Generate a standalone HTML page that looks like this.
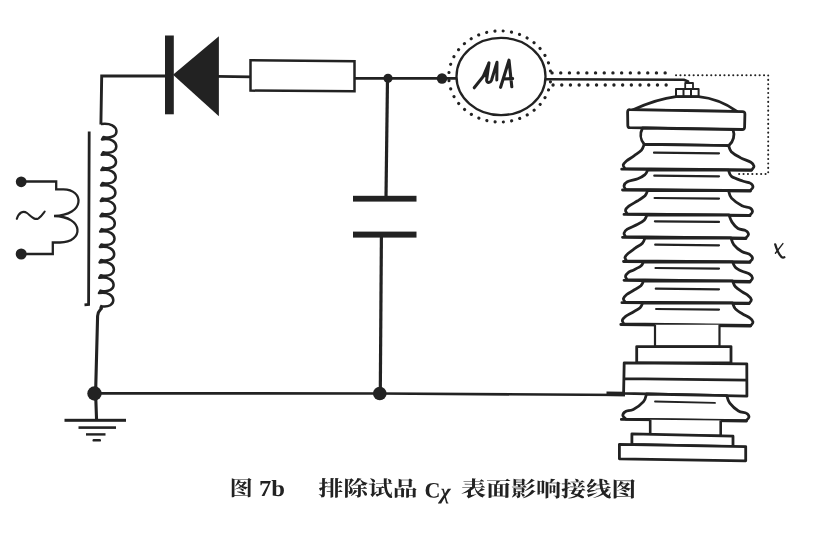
<!DOCTYPE html>
<html><head><meta charset="utf-8"><title>图 7b</title>
<style>
html,body{margin:0;padding:0;background:#fff;}
body{width:831px;height:550px;overflow:hidden;font-family:"Liberation Serif",serif;}
svg{display:block;filter:blur(0.45px);}
</style></head><body>
<svg width="831" height="550" viewBox="0 0 831 550">
<rect width="831" height="550" fill="#fff"/>
<path d="M100.9,124.5 L101.7,76 L167,76" fill="none" stroke="#222" stroke-width="2.9" stroke-linejoin="miter" />
<path d="M217,76.3 L251,76.8" fill="none" stroke="#222" stroke-width="2.8" stroke-linejoin="miter" />
<path d="M354,78.3 L457,78.3" fill="none" stroke="#222" stroke-width="2.8" stroke-linejoin="miter" />
<path d="M546,79.3 L684,79.8 L688,81.5 L688.6,84" fill="none" stroke="#222" stroke-width="2.6" stroke-linejoin="miter" />
<path d="M387.5,78 L386,197" fill="none" stroke="#222" stroke-width="3.2" stroke-linejoin="miter" />
<path d="M381.4,236 L380.3,393.5" fill="none" stroke="#222" stroke-width="3.2" stroke-linejoin="miter" />
<path d="M94,393.3 L380,393.5 L625,395" fill="none" stroke="#222" stroke-width="2.7" stroke-linejoin="miter" />
<path d="M606.5,393.8 L625,394" fill="none" stroke="#222" stroke-width="4.4" stroke-linejoin="miter" />
<path d="M100.2,306 C104,309.5 98,308.5 97.6,316 L95.6,393 L96.6,421" fill="none" stroke="#222" stroke-width="3.1"/>
<rect x="165" y="35.5" width="8.8" height="78.8" fill="#222"/>
<polygon points="173,74.8 218.9,36.2 218.9,116.2" fill="#222"/>
<path d="M250.5,60.3 L354.5,61.3 L354.5,91.2 L250.5,90.6 Z" fill="#fff" stroke="#222" stroke-width="2.5"/>
<circle cx="388" cy="78.3" r="4.6" fill="#222"/>
<circle cx="442" cy="78.5" r="5.2" fill="#222"/>
<circle cx="94.5" cy="393.5" r="7.2" fill="#222"/>
<circle cx="379.8" cy="393.5" r="6.8" fill="#222"/>
<circle cx="21.2" cy="181.8" r="5.4" fill="#222"/>
<circle cx="21.2" cy="254" r="5.5" fill="#222"/>
<rect x="353" y="195.8" width="63.5" height="5.8" fill="#222"/>
<rect x="353" y="231.6" width="63.5" height="6" fill="#222"/>
<rect x="64.5" y="418.8" width="61.5" height="3" fill="#222"/>
<rect x="78.5" y="426.3" width="37.5" height="2.6" fill="#222"/>
<rect x="86" y="433.2" width="19.5" height="2.4" fill="#222"/>
<rect x="92.5" y="439" width="8.5" height="2.6" rx="1.2" fill="#222"/>
<path d="M89.2,131.5 L88.6,304.5 L84.5,304.8" fill="none" stroke="#222" stroke-width="2.8" stroke-linejoin="miter" />
<path d="M100.9,124.0 C120.8,121.0 121.5,140.9 103.5,136.9 L102.0,139.4 C120.5,136.4 121.2,156.2 103.2,152.2 L101.7,154.8 C120.2,151.8 120.9,171.6 102.9,167.6 L101.4,170.1 C119.9,167.1 120.6,187.0 102.6,183.0 L101.1,185.5 C119.6,182.5 120.3,202.4 102.3,198.4 L100.8,200.9 C119.3,197.9 120.0,217.8 102.0,213.8 L100.5,216.2 C119.0,213.2 119.7,233.1 101.7,229.1 L100.2,231.6 C118.7,228.6 119.4,248.5 101.4,244.5 L99.9,247.0 C118.4,244.0 119.1,263.9 101.1,259.9 L99.6,262.4 C118.1,259.4 118.8,279.2 100.8,275.2 L99.3,277.8 C117.8,274.8 118.5,294.6 100.5,290.6 L99.0,293.1 C117.5,290.1 118.2,310.0 100.2,306.0" fill="none" stroke="#222" stroke-width="2.5" stroke-linejoin="round"/>
<path d="M21.2,181.5 L56.2,181.5 L56.2,189.3 L63,189.3 C84.5,189 85.5,215.5 54,216 C84.5,216.5 84,242.5 60,242.5 L52.8,242.5 L52.8,254 L21.2,254" fill="none" stroke="#222" stroke-width="2.3" stroke-linejoin="miter"/>
<path d="M16.8,218.8 C19,212.5 23,210.3 27,213 C31,216 34.5,220.8 38.5,218.3 C41.5,216.3 43,213.8 44.7,211.5" fill="none" stroke="#222" stroke-width="2.1" stroke-linecap="round"/>
<ellipse cx="501" cy="76.5" rx="44.5" ry="38.6" fill="#fff" stroke="#222" stroke-width="2.3"/>
<ellipse cx="499.8" cy="76.5" rx="51" ry="45.6" fill="none" stroke="#222" stroke-width="3.1" stroke-linecap="round" stroke-dasharray="0.1 8.25" stroke-dashoffset="3"/>
<path d="M474.2,87.8 L483,76.8 L489,62.8 L486.6,80.3 C487,83.2 490.2,83.2 491.6,80 L497,62.3 L496.8,80" fill="none" stroke="#222" stroke-width="3" stroke-linejoin="round" stroke-linecap="round"/>
<path d="M483.5,76.5 L488.5,64.5 L486.8,78 Z" fill="#222"/>
<path d="M500.6,87.3 L509,60.2 L511.8,86.8 M503.5,79 L512.6,78.6" fill="none" stroke="#222" stroke-width="3.1" stroke-linejoin="round" stroke-linecap="round"/>
<path d="M552,72.9 L670,72.9" stroke="#222" stroke-width="3.3" stroke-linecap="round" stroke-dasharray="0.1 8.6" fill="none"/>
<path d="M553,85 L672,85" stroke="#222" stroke-width="3.3" stroke-linecap="round" stroke-dasharray="0.1 8.6" fill="none"/>
<path d="M676,75.2 L768.2,75.2 L768.2,174 L739,174" stroke="#222" stroke-width="2" stroke-linecap="round" stroke-dasharray="0.1 4.3" fill="none"/>
<path d="M685.2,83 L693,83 L693,89 L685.2,89 Z" fill="#fff" stroke="#222" stroke-width="1.8" stroke-linejoin="round"/>
<path d="M676,89 L698.6,89 L698.6,96.6 L676,96.6 Z M683.5,89 L683.5,96.6 M691,89 L691,96.6" fill="#fff" stroke="#222" stroke-width="2" stroke-linejoin="round"/>
<path d="M632.5,110 C647,103.5 661,98.5 676,96.7 L698.6,96.7 C712,98 725,103 737,111.3 Z" fill="#fff" stroke="#222" stroke-width="2.8" stroke-linejoin="round"/>
<path d="M629.8,109.7 L742.4,111.6 Q745,111.7 744.9,114 L744.6,127.2 Q744.5,129.6 742,129.5 L630,127.7 Q627.8,127.6 627.8,125.4 L627.6,112 Q627.6,109.6 629.8,109.7 Z" fill="#fff" stroke="#222" stroke-width="2.8" stroke-linejoin="round"/>
<path d="M642.5,128 C640,133 640,139.5 644.2,144.2 L728.8,145.6 C733.6,141.5 735,135 733,129.6 Z" fill="#fff" stroke="#222" stroke-width="2.8" stroke-linejoin="round"/>
<path d="M644.2,144.3 C643.8,145.3 643.2,148.2 641.5,150.1 C639.9,152.0 636.8,153.8 634.3,155.6 C631.8,157.5 628.3,159.5 626.4,161.0 C624.6,162.6 623.4,163.9 623.2,165.1 C623.0,166.4 624.8,168.1 625.1,168.6 L751.8,169.8 L751.8,169.8 C752.2,169.2 754.2,167.5 754.0,166.3 C753.8,165.0 753.2,163.6 750.9,162.2 C748.6,160.8 743.4,159.4 740.2,157.6 C736.9,155.9 733.3,153.7 731.3,151.7 C729.4,149.7 729.1,146.6 728.6,145.6 Z" fill="#fff" stroke="#222" stroke-width="2.8" stroke-linejoin="round"/>
<path d="M621.7,169.2 L751.5,170.3" stroke="#222" stroke-width="2.8" fill="none" stroke-linecap="round"/>
<path d="M647.6,170.2 C647.2,170.9 646.6,173.1 645.0,174.6 C643.4,176.0 640.8,177.5 637.8,178.7 C634.9,179.9 629.6,180.6 627.3,181.8 C625.0,183.0 624.3,184.6 624.0,185.9 C623.7,187.2 625.4,188.8 625.7,189.4 L750.0,190.7 L750.0,190.7 C750.5,190.1 753.0,188.4 753.0,187.1 C753.0,185.8 752.0,184.1 750.2,183.1 C748.5,182.1 745.6,182.1 742.5,181.0 C739.4,179.9 733.8,178.2 731.5,176.4 C729.2,174.6 729.0,171.2 728.5,170.2 Z" fill="#fff" stroke="#222" stroke-width="2.8" stroke-linejoin="round"/>
<path d="M622.5,190.0 L750.5,191.0" stroke="#222" stroke-width="2.8" fill="none" stroke-linecap="round"/>
<path d="M647.6,190.5 C647.2,191.4 646.6,194.0 645.0,195.8 C643.4,197.5 640.5,199.0 637.8,200.8 C635.1,202.5 630.8,204.6 628.8,206.2 C626.8,207.8 625.8,209.0 625.5,210.3 C625.2,211.6 626.9,213.2 627.2,213.8 L749.5,215.4 L749.5,215.4 C750.0,214.8 752.5,213.1 752.5,211.8 C752.5,210.5 751.5,208.8 749.7,207.8 C748.0,206.8 745.0,207.3 742.0,205.7 C739.0,204.1 733.8,200.6 731.5,198.1 C729.2,195.5 729.0,191.8 728.5,190.5 Z" fill="#fff" stroke="#222" stroke-width="2.8" stroke-linejoin="round"/>
<path d="M624.0,214.4 L750.0,215.7" stroke="#222" stroke-width="2.8" fill="none" stroke-linecap="round"/>
<path d="M647.0,215.0 C646.6,215.8 646.0,218.3 644.4,219.9 C642.8,221.5 640.1,223.1 637.2,224.6 C634.4,226.1 629.5,227.7 627.3,229.1 C625.1,230.5 624.3,231.9 624.0,233.2 C623.7,234.5 625.4,236.1 625.7,236.7 L745.5,238.2 L745.5,238.2 C746.0,237.6 748.5,235.9 748.5,234.6 C748.5,233.3 747.5,231.6 745.7,230.6 C744.0,229.6 740.3,229.9 738.0,228.5 C735.7,227.1 733.5,224.3 732.0,222.1 C730.5,219.8 729.5,216.2 729.0,215.0 Z" fill="#fff" stroke="#222" stroke-width="2.8" stroke-linejoin="round"/>
<path d="M622.5,237.3 L746.0,238.5" stroke="#222" stroke-width="2.8" fill="none" stroke-linecap="round"/>
<path d="M645.0,238.0 C644.6,238.9 644.0,241.5 642.4,243.2 C640.8,244.9 637.6,246.4 635.2,248.1 C632.9,249.8 630.0,251.8 628.3,253.3 C626.6,254.8 625.3,256.1 625.0,257.4 C624.7,258.7 626.4,260.3 626.7,260.9 L749.8,261.9 L749.8,261.9 C750.2,261.3 752.5,259.6 752.5,258.4 C752.5,257.1 751.4,255.5 749.6,254.3 C747.8,253.2 744.4,253.1 741.8,251.5 C739.1,250.0 735.7,247.2 733.9,244.9 C732.1,242.6 731.5,239.2 731.0,238.0 Z" fill="#fff" stroke="#222" stroke-width="2.8" stroke-linejoin="round"/>
<path d="M623.5,261.5 L750.0,262.3" stroke="#222" stroke-width="2.8" fill="none" stroke-linecap="round"/>
<path d="M643.5,262.0 C643.1,262.7 642.5,264.7 640.9,266.0 C639.3,267.3 635.7,268.9 633.7,269.9 C631.7,270.9 630.2,271.0 628.8,272.1 C627.4,273.2 625.8,274.9 625.5,276.2 C625.2,277.5 626.9,279.1 627.2,279.7 L750.1,281.5 L750.1,281.5 C750.5,281.0 752.6,279.3 752.5,278.0 C752.4,276.7 751.2,275.1 749.5,274.0 C747.7,272.8 744.5,272.4 742.1,271.3 C739.8,270.2 736.9,268.8 735.3,267.2 C733.7,265.6 733.0,262.9 732.5,262.0 Z" fill="#fff" stroke="#222" stroke-width="2.8" stroke-linejoin="round"/>
<path d="M624.0,280.3 L750.0,282.0" stroke="#222" stroke-width="2.8" fill="none" stroke-linecap="round"/>
<path d="M643.5,281.0 C643.1,281.8 642.5,284.2 640.9,285.8 C639.3,287.3 636.1,288.9 633.7,290.3 C631.3,291.8 628.4,293.1 626.7,294.5 C625.0,295.9 623.7,297.3 623.4,298.6 C623.1,299.9 624.8,301.5 625.1,302.1 L749.3,303.2 L749.3,303.2 C749.7,302.6 751.6,300.9 751.4,299.7 C751.2,298.4 749.8,296.9 748.2,295.6 C746.7,294.3 744.1,293.2 741.9,291.6 C739.7,290.1 736.8,288.3 735.2,286.5 C733.7,284.8 733.0,281.9 732.5,281.0 Z" fill="#fff" stroke="#222" stroke-width="2.8" stroke-linejoin="round"/>
<path d="M621.9,302.7 L748.9,303.7" stroke="#222" stroke-width="2.8" fill="none" stroke-linecap="round"/>
<path d="M642.7,303.0 C642.3,303.8 641.7,306.2 640.1,307.7 C638.5,309.3 635.3,310.8 632.9,312.2 C630.5,313.7 627.4,314.9 625.6,316.3 C623.8,317.7 622.6,319.1 622.3,320.4 C622.0,321.7 623.7,323.3 624.0,323.9 L750.9,325.5 L750.9,325.5 C751.3,324.9 753.2,323.2 753.0,322.0 C752.8,320.7 751.6,319.2 749.8,317.9 C748.1,316.5 744.8,315.4 742.4,313.8 C739.9,312.3 736.9,310.4 735.2,308.6 C733.6,306.8 733.0,303.9 732.5,303.0 Z" fill="#fff" stroke="#222" stroke-width="2.8" stroke-linejoin="round"/>
<path d="M620.8,324.5 L750.5,326.0" stroke="#222" stroke-width="2.8" fill="none" stroke-linecap="round"/>
<path d="M654.0,152.7 L719,153.29999999999998" stroke="#222" stroke-width="2.2" fill="none" stroke-linecap="round"/>
<path d="M654.3,175.7 L719,176.29999999999998" stroke="#222" stroke-width="2.2" fill="none" stroke-linecap="round"/>
<path d="M654.6,198 L719,198.6" stroke="#222" stroke-width="2.2" fill="none" stroke-linecap="round"/>
<path d="M654.9,221.3 L719,221.9" stroke="#222" stroke-width="2.2" fill="none" stroke-linecap="round"/>
<path d="M655.2,244.7 L719,245.29999999999998" stroke="#222" stroke-width="2.2" fill="none" stroke-linecap="round"/>
<path d="M655.5,268 L719,268.6" stroke="#222" stroke-width="2.2" fill="none" stroke-linecap="round"/>
<path d="M655.8,288.7 L719,289.3" stroke="#222" stroke-width="2.2" fill="none" stroke-linecap="round"/>
<path d="M656.1,309 L719,309.6" stroke="#222" stroke-width="2.2" fill="none" stroke-linecap="round"/>
<path d="M655,324.7 L655,346.5 L719.5,346.5 L719.5,324.7" fill="#fff" stroke="#222" stroke-width="2.2" stroke-linejoin="round"/>
<path d="M636.7,346.6 L731,346.6 L731,363 L636.7,363 Z" fill="#fff" stroke="#222" stroke-width="2.8" stroke-linejoin="round"/>
<path d="M624.2,362.8 L746.8,363.8 L746.9,396.2 L623.6,393.4 Z M624,378.6 L746.8,380.2" fill="#fff" stroke="#222" stroke-width="2.8" stroke-linejoin="round"/>
<path d="M646.5,394.0 C646.0,395.3 645.7,399.1 643.5,401.6 C641.3,404.2 636.3,407.8 633.3,409.4 C630.3,411.0 627.3,410.5 625.6,411.5 C623.8,412.5 622.8,414.2 622.8,415.5 C622.8,416.8 625.3,418.5 625.8,419.1 L746.0,420.7 L746.0,420.7 C746.5,420.1 749.0,418.4 749.0,417.1 C749.0,415.8 748.0,414.1 746.2,413.1 C744.5,412.1 741.2,412.6 738.5,411.0 C735.8,409.4 731.8,405.8 729.8,403.2 C727.8,400.7 727.3,396.9 726.8,395.6 Z" fill="#fff" stroke="#222" stroke-width="2.8" stroke-linejoin="round"/>
<path d="M621.3,419.4 L746.5,421.0" stroke="#222" stroke-width="2.8" fill="none" stroke-linecap="round"/>
<path d="M655,401.5 L715,402.9" stroke="#222" stroke-width="1.8" fill="none" stroke-linecap="round"/>
<path d="M650.2,419.8 L650.2,435 L720.7,436 L720.7,420.6" fill="#fff" stroke="#222" stroke-width="2.6" stroke-linejoin="round"/>
<path d="M631.9,433.8 L733,436.2 L733,446.6 L631.9,444.4 Z" fill="#fff" stroke="#222" stroke-width="2.8" stroke-linejoin="round"/>
<path d="M619.4,444.4 L745.7,446.6 L745.7,460.8 L619.4,458.8 Z" fill="#fff" stroke="#222" stroke-width="2.8" stroke-linejoin="round"/>
<path d="M775.2,244.3 C776.5,249 778.8,254 781.3,256.8 Q782.8,258 784.3,257.3" fill="none" stroke="#222" stroke-width="2.3" stroke-linecap="round"/>
<path d="M782.9,243.6 L775.4,253.2" fill="none" stroke="#222" stroke-width="1.4" stroke-linecap="round"/>
<g transform="rotate(0.17 231 497)" fill="#222" font-family="&quot;Liberation Serif&quot;, &quot;Noto Serif CJK SC&quot;, serif" font-weight="bold">
<text x="229.4" y="495.5" font-size="21" textLength="23.3" lengthAdjust="spacingAndGlyphs">图</text>
<text x="259" y="495.9" font-size="23" textLength="26" lengthAdjust="spacingAndGlyphs">7b</text>
<text x="318.4" y="495.5" font-size="21" textLength="99.1" lengthAdjust="spacingAndGlyphs">排除试品</text>
<text x="424.4" y="497" font-size="22">C</text>
<text x="440.5" y="498.1" font-size="22" font-style="italic">χ</text>
<text x="460.9" y="495.5" font-size="21" textLength="175.4" lengthAdjust="spacingAndGlyphs">表面影响接线图</text>
</g>
</svg>
</body></html>
